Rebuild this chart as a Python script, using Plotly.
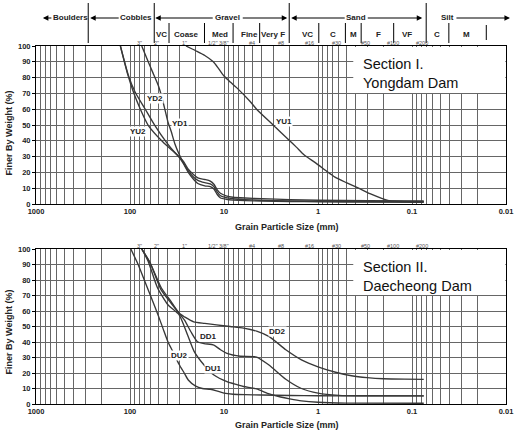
import math
import plotly.graph_objects as go

# ---------------- DATA ----------------
# Section I. Yongdam Dam  (grain size in mm, percent finer)
yu1_size = [25.4, 20, 16, 13, 11.5, 10, 8.5, 7.3, 5.3, 4.5, 3.0, 2.0, 1.7, 1.4, 1.06, 0.8, 0.66, 0.5, 0.37, 0.28, 0.21, 0.17, 0.12, 0.075]
yu1_pass = [100, 97, 94, 90, 86, 81, 77, 73.5, 65, 60, 50, 40, 36, 31, 26, 20.5, 17, 13.5, 10, 6.5, 3.6, 2.0, 1.5, 1.3]

yu2_size = [126.5, 105, 92, 78, 64, 44.6, 34, 30, 27, 24, 21, 19, 16, 14, 12.8, 11.8, 10.9, 9.5, 8, 6, 4, 2, 1, 0.3, 0.075]
yu2_pass = [100, 81.4, 70.9, 60.3, 49.8, 39.2, 32.9, 29.5, 25.5, 20, 15.5, 13, 11.5, 11, 9.5, 6, 3.8, 3, 2.5, 2.1, 1.9, 1.6, 1.4, 1.2, 1.1]

yd1_size = [75, 64, 57, 50, 46, 43, 39.5, 36.5, 33.5, 30, 27, 24, 21, 19, 16, 14, 12.8, 11.8, 10.9, 9.5, 8, 6, 4, 2, 1, 0.3, 0.075]
yd1_pass = [100, 90, 83, 75, 68, 61, 52, 46, 38.5, 31.5, 26, 21, 17, 15, 13.5, 12.8, 11, 7.5, 5.2, 4, 3.3, 2.8, 2.4, 2, 1.8, 1.6, 1.5]

yd2_size = [126.5, 104, 88.3, 69.3, 54.5, 41.1, 33.7, 30, 27, 24, 21, 19, 16, 14, 12.8, 11.8, 10.9, 9.5, 8, 6, 4, 2, 1, 0.3, 0.075]
yd2_pass = [100, 81.4, 70.9, 60.3, 49.8, 39.2, 32.9, 30, 27, 22, 18.5, 16.5, 15.5, 14.5, 12.5, 9, 6.8, 5.2, 4.3, 3.8, 3.4, 2.8, 2.4, 2.1, 2.0]

# Section II. Daecheong Dam
dd1_size = [75, 61, 47, 36.5, 30, 26.4, 22.5, 19.2, 16.3, 12.8, 10.9, 9.3, 6.7, 4.5, 3.3, 2.2, 1.5, 1.0, 0.6, 0.3, 0.075]
dd1_pass = [100, 91, 74, 65, 58.5, 54.2, 46.6, 40.2, 39, 38, 35, 32.7, 30.8, 30.3, 25, 16, 10, 7, 5.6, 5.3, 5.2]

dd2_size = [75, 61, 46.5, 36.5, 30, 26, 21, 16, 12, 8.6, 6.2, 4.5, 3.3, 2.2, 1.5, 1.0, 0.65, 0.44, 0.3, 0.2, 0.12, 0.075]
dd2_pass = [100, 91, 75, 66, 58.5, 56, 53, 52, 51, 50, 49, 47, 43.5, 35, 28.5, 24, 20.5, 18.2, 17, 16.3, 16, 15.9]

du1_size = [75, 64, 51, 39.5, 30, 24.4, 20.8, 16.3, 12.8, 9.3, 7.3, 6.2, 4.5, 3.3, 2.5, 2.0, 1.5, 1.0, 0.5, 0.075]
du1_pass = [100, 92, 75, 64, 57.5, 44.5, 34, 25.2, 18.7, 14.4, 12.5, 11.3, 9.7, 6.5, 4.5, 3.3, 2.0, 1.1, 0.6, 0.5]

du2_size = [98, 81.5, 69.3, 59, 50.3, 44.6, 39.5, 35, 30, 26.5, 24, 20, 17, 14, 12, 10, 8, 6, 4, 2, 1, 0.3, 0.075]
du2_pass = [100, 89.7, 78.9, 68.2, 57.4, 48.8, 40.2, 33.8, 25.5, 20, 15.5, 11.5, 10, 9.5, 8.5, 7, 6.3, 6, 5.8, 5.5, 5.3, 5.2, 5.2]

# curve labels: (text, grain size mm, percent finer)
labels_1 = [("YU1", 2.28, 52), ("YD1", 29.4, 50.8), ("YD2", 54, 67), ("YU2", 83, 46)]
labels_2 = [("DD2", 2.67, 47), ("DD1", 14.5, 43.4), ("DU1", 12.8, 23), ("DU2", 29.8, 31.6)]

# axis ticks
decade_vals = [1000, 100, 10, 1, 0.1, 0.01]
decade_text = ["1000", "100", "10", "1", "0.1", "0.01"]
y_ticks = [0, 10, 20, 30, 40, 50, 60, 70, 80, 90, 100]

# sieve marks along the top of each chart
sieve_text = ['3"', '2"', '1"', '1/2"', '3/8"', '#4', '#8', '#16', '#30', '#50', '#100', '#200']
sieve_mm = [75, 50, 25, 12.5, 9.5, 4.75, 2.36, 1.18, 0.6, 0.3, 0.15, 0.075]

# ---------------- LAYOUT HELPERS ----------------
W, H = 522, 430
ML, MR, MT, MB = 36, 9, 46, 26
PW, PH = W - ML - MR, H - MT - MB


def hx(px):
    return (px - ML) / PW


def hy(py):
    return (H - MB - py) / PH


FONT = "Liberation Sans, Arial, sans-serif"
CURVE = "#383838"
GRID = "#666666"

fig = go.Figure()


def add_curve(x, y, name, xa, ya):
    fig.add_trace(go.Scatter(
        x=x, y=y, mode="lines", name=name, xaxis=xa, yaxis=ya,
        line=dict(color=CURVE, width=1.35, shape="spline", smoothing=0.6),
        hoverinfo="skip", showlegend=False))


add_curve(yu1_size, yu1_pass, "YU1", "x", "y")
add_curve(yu2_size, yu2_pass, "YU2", "x", "y")
add_curve(yd1_size, yd1_pass, "YD1", "x", "y")
add_curve(yd2_size, yd2_pass, "YD2", "x", "y")
add_curve(dd1_size, dd1_pass, "DD1", "x2", "y2")
add_curve(dd2_size, dd2_pass, "DD2", "x2", "y2")
add_curve(du1_size, du1_pass, "DU1", "x2", "y2")
add_curve(du2_size, du2_pass, "DU2", "x2", "y2")

grid_vals = [m * 10.0 ** e for e in range(-2, 3) for m in range(1, 10)] + [1000.0]
grid_text = []
for v in grid_vals:
    t = ""
    for dv, dt in zip(decade_vals, decade_text):
        if abs(math.log10(v) - math.log10(dv)) < 1e-9:
            t = dt
    grid_text.append(t)

tickfont = dict(family=FONT, size=7.5, color="#222", weight="bold")

xcommon = dict(type="log", range=[3, -2], tickmode="array", tickvals=grid_vals, ticktext=grid_text,
               showgrid=True, gridcolor=GRID, gridwidth=1, ticks="", showline=True, linecolor="black",
               linewidth=1.3, mirror=True, tickfont=tickfont, zeroline=False)
ycommon = dict(range=[0, 100], tickmode="array", tickvals=y_ticks, showgrid=True, gridcolor=GRID,
               gridwidth=1, ticks="outside", ticklen=3, tickcolor="black", showline=True,
               linecolor="black", linewidth=1, mirror=True, tickfont=tickfont, zeroline=False)

top_dom = [hy(204), 1.0]
bot_dom = [0.0, hy(249)]

fig.update_layout(
    width=W, height=H, margin=dict(l=ML, r=MR, t=MT, b=MB),
    paper_bgcolor="white", plot_bgcolor="white", showlegend=False,
    xaxis=dict(domain=[0, 1], anchor="y", **xcommon),
    yaxis=dict(domain=top_dom, anchor="x", **ycommon),
    xaxis2=dict(domain=[0, 1], anchor="y2", **xcommon),
    yaxis2=dict(domain=bot_dom, anchor="x2", **ycommon),
)

shapes = []
ann = []


def text_ann(text, x, y, size, xref="paper", yref="paper", xanchor="center", **kw):
    d = dict(text=text, x=x, y=y, xref=xref, yref=yref, xanchor=xanchor, yanchor="middle",
             showarrow=False, font=dict(family=FONT, size=size, color=kw.pop("color", "#222")))
    d.update(kw)
    ann.append(d)


# curve labels
for lst, xr, yr in ((labels_1, "x", "y"), (labels_2, "x2", "y2")):
    for t, sx, sy in lst:
        text_ann("<b>%s</b>" % t, math.log10(sx), sy, 8, xref=xr, yref=yr,
                 bgcolor="white", borderpad=0)

# section title boxes
for (yb, yt, ytext, txt) in ((93, 47, 73, "Section I.<br>Yongdam Dam"),
                             (295, 250, 276, "Section II.<br>Daecheong Dam")):
    shapes.append(dict(type="rect", xref="paper", yref="paper", x0=hx(358), x1=hx(512.3),
                       y0=hy(yb), y1=hy(yt), fillcolor="white", line=dict(width=0), layer="above"))
    text_ann(txt, hx(366), hy(ytext), 14.5, xanchor="left", align="left", color="#111")

# sieve labels
for xr, py in (("x", 43), ("x2", 245.5)):
    for t, mm in zip(sieve_text, sieve_mm):
        text_ann(t, math.log10(mm), hy(py), 5.5, xref=xr, xshift=-2, color="#555")

# axis titles
for py in (227, 424.5):
    text_ann("<b>Grain Particle Size (mm)</b>", hx(291), hy(py), 9)
for py in (133, 332):
    text_ann("<b>Finer By Weight (%)</b>", hx(9), hy(py), 9, textangle=-90)

# ---------------- soil classification header ----------------
for px in (89, 156, 293, 432):
    shapes.append(dict(type="line", xref="paper", yref="paper", x0=hx(px), x1=hx(px),
                       y0=hy(43), y1=hy(3), line=dict(color="black", width=1)))
for px in (171, 207, 236, 263, 323, 350, 366, 399, 455):
    shapes.append(dict(type="line", xref="paper", yref="paper", x0=hx(px), x1=hx(px),
                       y0=hy(43), y1=hy(23), line=dict(color="black", width=1)))
shapes.append(dict(type="line", xref="paper", yref="paper", x0=hx(493), x1=hx(493),
                   y0=hy(40), y1=hy(25), line=dict(color="black", width=1)))

for t, px in (("Boulders", 71), ("Cobbles", 137), ("Gravel", 230), ("Sand", 361), ("Silt", 454)):
    text_ann("<b>%s</b>" % t, hx(px), hy(18), 8)
for t, px in (("VC", 163), ("Coase", 189), ("Med", 223), ("Fine", 253), ("Very F", 277),
              ("VC", 312), ("C", 337), ("M", 358), ("F", 384), ("VF", 413), ("C", 443), ("M", 473)):
    text_ann("<b>%s</b>" % t, hx(px), hy(35), 8)

# arrows: (head px, tail px)
for head, tail in ((43, 53), (91, 121), (157, 216), (291, 245), (295, 350), (428, 372), (517, 462)):
    ann.append(dict(text="", x=hx(head), y=hy(18), xref="paper", yref="paper", showarrow=True,
                    ax=tail - head, ay=0, axref="pixel", ayref="pixel", arrowhead=2,
                    arrowsize=1, arrowwidth=1.1, arrowcolor="black", standoff=0, startstandoff=0))

fig.update_layout(shapes=shapes, annotations=ann)
fig.write_html("out.html")
